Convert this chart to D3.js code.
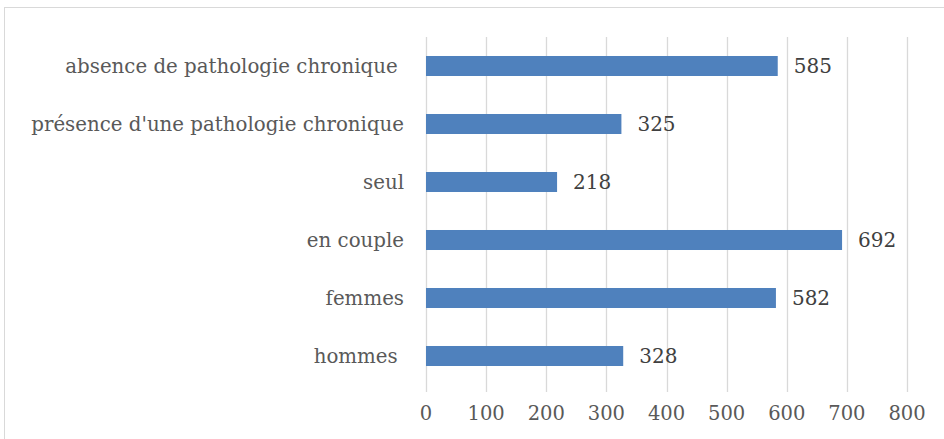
<!DOCTYPE html>
<html><head><meta charset="utf-8">
<script src="https://cdn.jsdelivr.net/npm/d3@7"></script>
<style>
body{margin:0;background:#fff;}
text{font-family:"DejaVu Serif","Liberation Serif",serif;}
</style></head>
<body>
<svg id="chart" width="944" height="439"></svg>
<script>
const categories = ["absence de pathologie chronique ", "présence d'une pathologie chronique", "seul", "en couple", "femmes", "hommes "];
const values = [585, 325, 218, 692, 582, 328];
const ticks = [0, 100, 200, 300, 400, 500, 600, 700, 800];

const svg = d3.select("#chart");
svg.append("rect").attr("x", 4.5).attr("y", 7.5).attr("width", 950).attr("height", 450)
  .attr("fill", "#fff").attr("stroke", "#d9d9d9").attr("stroke-width", 1);

const x = d3.scaleLinear().domain([0, 800]).range([426, 907]);
const y = d3.scaleBand().domain(categories).range([37, 385]).paddingInner(0.655).paddingOuter(0.3275);

// gridlines
svg.append("g").selectAll("line").data(ticks).join("line")
  .attr("x1", d => Math.round(x(d)) + 0.5).attr("x2", d => Math.round(x(d)) + 0.5)
  .attr("y1", 37).attr("y2", 392)
  .attr("stroke", "#d9d9d9").attr("stroke-width", 1.3);

// bars
svg.append("g").selectAll("rect").data(categories).join("rect")
  .attr("x", x(0)).attr("y", d => y(d))
  .attr("width", (d, i) => x(values[i]) - x(0)).attr("height", y.bandwidth())
  .attr("fill", "#4f81bd");

// value labels
svg.append("g").selectAll("text").data(categories).join("text")
  .attr("x", (d, i) => x(values[i]) + 16).attr("y", d => y(d) + y.bandwidth() / 2)
  .attr("dy", "0.36em").attr("font-size", 20).attr("fill", "#404040")
  .text((d, i) => values[i]);

// category labels
svg.append("g").selectAll("text").data(categories).join("text")
  .attr("x", 404).attr("y", d => y(d) + y.bandwidth() / 2)
  .attr("dy", "0.36em").attr("text-anchor", "end").attr("font-size", 19.8)
  .attr("fill", "#595959").style("white-space", "pre")
  .text(d => d);

// x axis labels
svg.append("g").selectAll("text").data(ticks).join("text")
  .attr("x", d => x(d)).attr("y", 413).attr("dy", "0.36em")
  .attr("text-anchor", "middle").attr("font-size", 19.5).attr("fill", "#595959")
  .text(d => d);
</script>
</body></html>
